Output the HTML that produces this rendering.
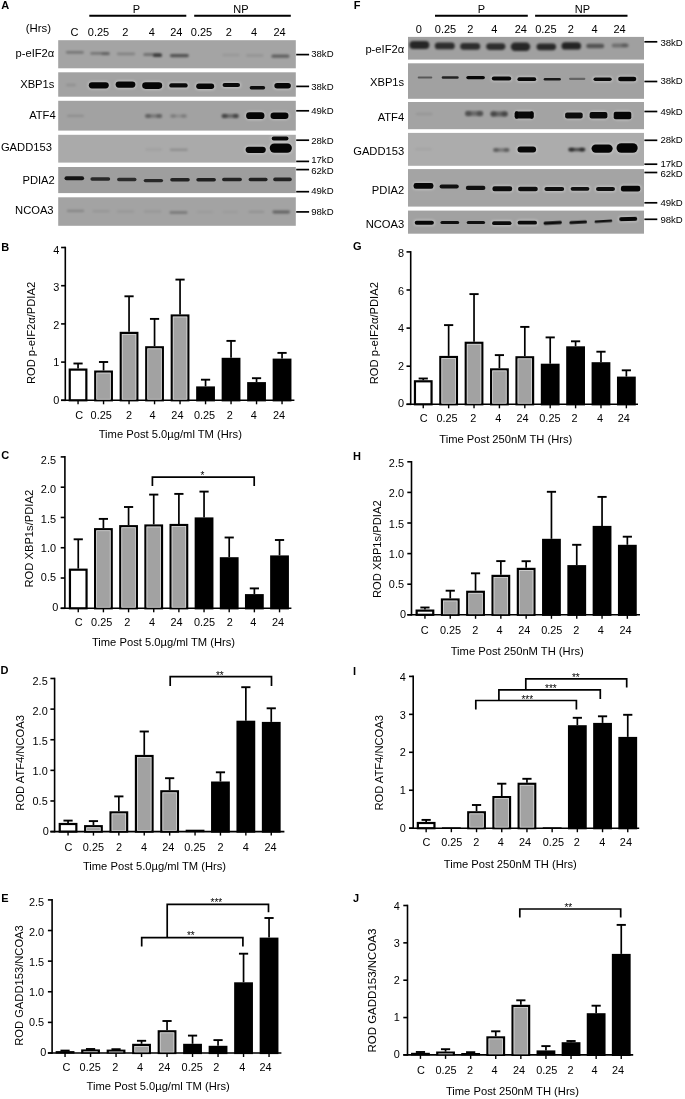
<!DOCTYPE html>
<html><head><meta charset="utf-8"><title>Figure</title>
<style>
html,body{margin:0;padding:0;background:#fff;}
body{width:685px;height:1099px;overflow:hidden;font-family:"Liberation Sans", sans-serif;}
svg{display:block;will-change:transform;filter:blur(0.3px);}
</style></head><body>
<svg width="685" height="1099" viewBox="0 0 685 1099" font-family='"Liberation Sans", sans-serif' fill="#000">
<defs>
<filter id="b4" x="-30%" y="-150%" width="160%" height="400%"><feGaussianBlur stdDeviation="0.4"/></filter>
<filter id="b5" x="-30%" y="-150%" width="160%" height="400%"><feGaussianBlur stdDeviation="0.5"/></filter>
<filter id="b6" x="-30%" y="-150%" width="160%" height="400%"><feGaussianBlur stdDeviation="0.6"/></filter>
<filter id="b7" x="-30%" y="-150%" width="160%" height="400%"><feGaussianBlur stdDeviation="0.7"/></filter>
<filter id="b8" x="-30%" y="-150%" width="160%" height="400%"><feGaussianBlur stdDeviation="0.8"/></filter>
<filter id="b9" x="-30%" y="-150%" width="160%" height="400%"><feGaussianBlur stdDeviation="0.9"/></filter>
<filter id="b10" x="-30%" y="-150%" width="160%" height="400%"><feGaussianBlur stdDeviation="1.0"/></filter>
<filter id="b12" x="-30%" y="-150%" width="160%" height="400%"><feGaussianBlur stdDeviation="1.2"/></filter>
<filter id="b15" x="-30%" y="-150%" width="160%" height="400%"><feGaussianBlur stdDeviation="1.5"/></filter>
<clipPath id="clip58_40"><rect x="58.2" y="40.2" width="237.6" height="28.1"/></clipPath>
<clipPath id="clip58_72"><rect x="58.2" y="72.3" width="237.6" height="24.4"/></clipPath>
<clipPath id="clip58_100"><rect x="58.2" y="100.8" width="237.6" height="29.8"/></clipPath>
<clipPath id="clip58_134"><rect x="58.2" y="134.8" width="237.6" height="27.8"/></clipPath>
<clipPath id="clip58_167"><rect x="58.2" y="167" width="237.6" height="26.1"/></clipPath>
<clipPath id="clip58_197"><rect x="58.2" y="197.3" width="237.6" height="28.5"/></clipPath>
<clipPath id="clip408_36"><rect x="408" y="36.9" width="236" height="22.7"/></clipPath>
<clipPath id="clip408_63"><rect x="408" y="63.3" width="236" height="35.5"/></clipPath>
<clipPath id="clip408_102"><rect x="408" y="102" width="236" height="27.2"/></clipPath>
<clipPath id="clip408_132"><rect x="408" y="132.9" width="236" height="32.9"/></clipPath>
<clipPath id="clip408_169"><rect x="408" y="169.1" width="236" height="37.5"/></clipPath>
<clipPath id="clip408_210"><rect x="408" y="210.6" width="236" height="23.1"/></clipPath>
</defs>
<rect width="685" height="1099" fill="#fff"/>
<rect x="58.2" y="40.2" width="237.6" height="28.1" fill="#a4a4a4"/>
<g clip-path="url(#clip58_40)">
<rect x="65.9" y="50.9" width="18" height="2.8" rx="1.4" fill="#000" fill-opacity="0.28" filter="url(#b10)"/>
<rect x="90.25" y="52" width="19.5" height="2.8" rx="1.4" fill="#000" fill-opacity="0.28" filter="url(#b10)"/>
<rect x="101.5" y="52.6" width="8" height="2.6" rx="1.3" fill="#000" fill-opacity="0.2" filter="url(#b9)"/>
<rect x="116.75" y="52.4" width="18.5" height="2.8" rx="1.4" fill="#000" fill-opacity="0.2" filter="url(#b10)"/>
<rect x="143.25" y="53.1" width="18.5" height="3" rx="1.5" fill="#000" fill-opacity="0.3" filter="url(#b10)"/>
<rect x="153" y="53.8" width="9" height="3.2" rx="1.6" fill="#000" fill-opacity="0.55" filter="url(#b9)"/>
<rect x="169.9" y="53.9" width="19" height="3.4" rx="1.7" fill="#000" fill-opacity="0.5" filter="url(#b10)"/>
<rect x="222.25" y="53.7" width="17.5" height="2.6" rx="1.3" fill="#000" fill-opacity="0.08" filter="url(#b10)"/>
<rect x="246.05" y="54.2" width="17.5" height="2.6" rx="1.3" fill="#000" fill-opacity="0.1" filter="url(#b10)"/>
<rect x="271.4" y="54.6" width="18" height="3.2" rx="1.6" fill="#000" fill-opacity="0.42" filter="url(#b10)"/>
</g>
<rect x="58.2" y="72.3" width="237.6" height="24.4" fill="#a2a2a2"/>
<g clip-path="url(#clip58_72)">
<rect x="66" y="83.75" width="10" height="2.5" rx="1.25" fill="#000" fill-opacity="0.1" filter="url(#b10)"/>
<rect x="87.6" y="81" width="22.4" height="8.6" rx="4.3" fill="#fff" fill-opacity="0.28" filter="url(#b8)"/>
<rect x="88.8" y="82.2" width="20" height="6.2" rx="3.1" fill="#000" fill-opacity="0.97" filter="url(#b6)"/>
<rect x="114.4" y="80.3" width="22.2" height="8.6" rx="4.3" fill="#fff" fill-opacity="0.28" filter="url(#b8)"/>
<rect x="115.6" y="81.5" width="19.8" height="6.2" rx="3.1" fill="#000" fill-opacity="0.97" filter="url(#b6)"/>
<rect x="141" y="81.1" width="22.4" height="9" rx="4.5" fill="#fff" fill-opacity="0.28" filter="url(#b8)"/>
<rect x="142.2" y="82.3" width="20" height="6.6" rx="3.3" fill="#000" fill-opacity="0.97" filter="url(#b6)"/>
<rect x="168.05" y="82" width="20.9" height="6.8" rx="3.4" fill="#fff" fill-opacity="0.28" filter="url(#b8)"/>
<rect x="169.25" y="83.2" width="18.5" height="4.4" rx="2.2" fill="#000" fill-opacity="0.95" filter="url(#b6)"/>
<rect x="195" y="82.4" width="20.4" height="7.8" rx="3.9" fill="#fff" fill-opacity="0.28" filter="url(#b8)"/>
<rect x="196.2" y="83.6" width="18" height="5.4" rx="2.7" fill="#000" fill-opacity="0.97" filter="url(#b6)"/>
<rect x="221.35" y="81.7" width="19.9" height="6.6" rx="3.3" fill="#fff" fill-opacity="0.28" filter="url(#b8)"/>
<rect x="222.55" y="82.9" width="17.5" height="4.2" rx="2.1" fill="#000" fill-opacity="0.95" filter="url(#b6)"/>
<rect x="249.65" y="86" width="15.5" height="3.4" rx="1.7" fill="#000" fill-opacity="0.92" filter="url(#b6)"/>
<rect x="273.15" y="81.75" width="18.9" height="7.9" rx="3.95" fill="#fff" fill-opacity="0.28" filter="url(#b8)"/>
<rect x="274.35" y="82.95" width="16.5" height="5.5" rx="2.75" fill="#000" fill-opacity="0.97" filter="url(#b6)"/>
</g>
<rect x="58.2" y="100.8" width="237.6" height="29.8" fill="#a2a2a2"/>
<g clip-path="url(#clip58_100)">
<rect x="67" y="114.7" width="17" height="2.4" rx="1.2" fill="#000" fill-opacity="0.12" filter="url(#b9)"/>
<rect x="144.85" y="114.2" width="17.5" height="3.6" rx="1.8" fill="#000" fill-opacity="0.25" filter="url(#b9)"/>
<rect x="145.35" y="114.11" width="5.6" height="3.78" rx="1.89" fill="#000" fill-opacity="0.22" filter="url(#b9)"/>
<rect x="156.25" y="114.11" width="5.6" height="3.78" rx="1.89" fill="#000" fill-opacity="0.22" filter="url(#b9)"/>
<rect x="170" y="114.4" width="17" height="3.2" rx="1.6" fill="#000" fill-opacity="0.12" filter="url(#b9)"/>
<rect x="170.5" y="114.32" width="5.44" height="3.36" rx="1.68" fill="#000" fill-opacity="0.14" filter="url(#b9)"/>
<rect x="181.06" y="114.32" width="5.44" height="3.36" rx="1.68" fill="#000" fill-opacity="0.14" filter="url(#b9)"/>
<rect x="221.45" y="114.1" width="17.5" height="3.8" rx="1.9" fill="#000" fill-opacity="0.35" filter="url(#b9)"/>
<rect x="221.95" y="114" width="5.6" height="3.99" rx="1.99" fill="#000" fill-opacity="0.35" filter="url(#b9)"/>
<rect x="232.85" y="114" width="5.6" height="3.99" rx="1.99" fill="#000" fill-opacity="0.35" filter="url(#b9)"/>
<rect x="244.9" y="111.1" width="20.8" height="9.2" rx="4.6" fill="#fff" fill-opacity="0.28" filter="url(#b8)"/>
<rect x="246.1" y="112.3" width="18.4" height="6.8" rx="3.4" fill="#000" fill-opacity="0.97" filter="url(#b6)"/>
<rect x="269.3" y="111.3" width="20.4" height="8.8" rx="4.4" fill="#fff" fill-opacity="0.28" filter="url(#b8)"/>
<rect x="270.5" y="112.5" width="18" height="6.4" rx="3.2" fill="#000" fill-opacity="0.97" filter="url(#b6)"/>
</g>
<rect x="58.2" y="134.8" width="237.6" height="27.8" fill="#aaaaaa"/>
<g clip-path="url(#clip58_134)">
<rect x="145.2" y="148.5" width="17" height="2" rx="1" fill="#000" fill-opacity="0.07" filter="url(#b9)"/>
<rect x="169.8" y="148.6" width="18" height="2.4" rx="1.2" fill="#000" fill-opacity="0.16" filter="url(#b9)"/>
<rect x="244.4" y="145.5" width="22.6" height="8.6" rx="4.3" fill="#fff" fill-opacity="0.28" filter="url(#b8)"/>
<rect x="245.6" y="146.7" width="20.2" height="6.2" rx="3.1" fill="#000" fill-opacity="0.97" filter="url(#b6)"/>
<rect x="268.5" y="142.2" width="24.6" height="11.8" rx="5.9" fill="#fff" fill-opacity="0.28" filter="url(#b8)"/>
<rect x="269.7" y="143.4" width="22.2" height="9.4" rx="4.7" fill="#000" fill-opacity="0.98" filter="url(#b6)"/>
<rect x="270.5" y="135.3" width="19.2" height="6.4" rx="3.2" fill="#fff" fill-opacity="0.28" filter="url(#b8)"/>
<rect x="271.7" y="136.5" width="16.8" height="4" rx="2" fill="#000" fill-opacity="0.95" filter="url(#b6)"/>
</g>
<rect x="58.2" y="167" width="237.6" height="26.1" fill="#9e9e9e"/>
<g clip-path="url(#clip58_167)">
<rect x="64.5" y="176.3" width="19.6" height="4" rx="2" fill="#000" fill-opacity="0.88" filter="url(#b7)"/>
<rect x="90.4" y="177.3" width="19.8" height="3.4" rx="1.7" fill="#000" fill-opacity="0.75" filter="url(#b7)"/>
<rect x="117.1" y="177.8" width="19.4" height="3.4" rx="1.7" fill="#000" fill-opacity="0.72" filter="url(#b7)"/>
<rect x="143.7" y="178.9" width="19.4" height="3.4" rx="1.7" fill="#000" fill-opacity="0.75" filter="url(#b7)"/>
<rect x="170.2" y="177.9" width="19.6" height="3.6" rx="1.8" fill="#000" fill-opacity="0.78" filter="url(#b7)"/>
<rect x="196.3" y="177.9" width="19.6" height="3.6" rx="1.8" fill="#000" fill-opacity="0.8" filter="url(#b7)"/>
<rect x="222.1" y="177.8" width="19.8" height="3.4" rx="1.7" fill="#000" fill-opacity="0.78" filter="url(#b7)"/>
<rect x="248.6" y="177.7" width="19" height="3.6" rx="1.8" fill="#000" fill-opacity="0.8" filter="url(#b7)"/>
<rect x="273.2" y="177.6" width="18.6" height="3.6" rx="1.8" fill="#000" fill-opacity="0.78" filter="url(#b7)"/>
</g>
<rect x="58.2" y="197.3" width="237.6" height="28.5" fill="#a3a3a3"/>
<g clip-path="url(#clip58_197)">
<rect x="66.75" y="209.7" width="17.5" height="2.2" rx="1.1" fill="#000" fill-opacity="0.18" filter="url(#b9)"/>
<rect x="92.35" y="210.2" width="17.5" height="2" rx="1" fill="#000" fill-opacity="0.09" filter="url(#b9)"/>
<rect x="116.5" y="210.4" width="18" height="2" rx="1" fill="#000" fill-opacity="0.08" filter="url(#b9)"/>
<rect x="143.85" y="210.6" width="17.5" height="2" rx="1" fill="#000" fill-opacity="0.09" filter="url(#b9)"/>
<rect x="169.5" y="211.2" width="18" height="2.6" rx="1.3" fill="#000" fill-opacity="0.28" filter="url(#b9)"/>
<rect x="196.5" y="210.9" width="17" height="2" rx="1" fill="#000" fill-opacity="0.05" filter="url(#b9)"/>
<rect x="222.3" y="210.9" width="16" height="2" rx="1" fill="#000" fill-opacity="0.05" filter="url(#b9)"/>
<rect x="248.4" y="210.8" width="16" height="2.2" rx="1.1" fill="#000" fill-opacity="0.1" filter="url(#b9)"/>
<rect x="272.45" y="210.6" width="17.5" height="2.8" rx="1.4" fill="#000" fill-opacity="0.4" filter="url(#b8)"/>
</g>
<line x1="296.2" y1="54.6" x2="309.1" y2="54.6" stroke="#000" stroke-width="1.7"/>
<text x="311.2" y="56.94" font-size="9.6" text-anchor="start" font-weight="normal" >38kD</text>
<line x1="296.2" y1="86.4" x2="309.1" y2="86.4" stroke="#000" stroke-width="1.7"/>
<text x="311.2" y="89.64" font-size="9.6" text-anchor="start" font-weight="normal" >38kD</text>
<line x1="296.2" y1="110.8" x2="309.1" y2="110.8" stroke="#000" stroke-width="1.7"/>
<text x="311.2" y="114.34" font-size="9.6" text-anchor="start" font-weight="normal" >49kD</text>
<line x1="296.2" y1="140.2" x2="309.1" y2="140.2" stroke="#000" stroke-width="1.7"/>
<text x="311.2" y="143.64" font-size="9.6" text-anchor="start" font-weight="normal" >28kD</text>
<line x1="296.2" y1="161.4" x2="309.1" y2="161.4" stroke="#000" stroke-width="1.7"/>
<text x="311.2" y="163.24" font-size="9.6" text-anchor="start" font-weight="normal" >17kD</text>
<line x1="296.2" y1="169.6" x2="309.1" y2="169.6" stroke="#000" stroke-width="1.7"/>
<text x="311.2" y="173.84" font-size="9.6" text-anchor="start" font-weight="normal" >62kD</text>
<line x1="296.2" y1="191.7" x2="309.1" y2="191.7" stroke="#000" stroke-width="1.7"/>
<text x="311.2" y="194.04" font-size="9.6" text-anchor="start" font-weight="normal" >49kD</text>
<line x1="296.2" y1="211.9" x2="309.1" y2="211.9" stroke="#000" stroke-width="1.7"/>
<text x="311.2" y="215.04" font-size="9.6" text-anchor="start" font-weight="normal" >98kD</text>
<text x="54.3" y="57.31" font-size="11.2" text-anchor="end" font-weight="normal" >p-eIF2α</text>
<text x="54.4" y="88.41" font-size="11.2" text-anchor="end" font-weight="normal" >XBP1s</text>
<text x="55.7" y="119.31" font-size="11.2" text-anchor="end" font-weight="normal" >ATF4</text>
<text x="51.9" y="151.21" font-size="11.2" text-anchor="end" font-weight="normal" >GADD153</text>
<text x="54.8" y="183.51" font-size="11.2" text-anchor="end" font-weight="normal" >PDIA2</text>
<text x="53.6" y="213.51" font-size="11.2" text-anchor="end" font-weight="normal" >NCOA3</text>
<text x="74.4" y="35.94" font-size="11" text-anchor="middle" font-weight="normal" >C</text>
<text x="98.5" y="35.94" font-size="11" text-anchor="middle" font-weight="normal" >0.25</text>
<text x="125.3" y="35.94" font-size="11" text-anchor="middle" font-weight="normal" >2</text>
<text x="151.9" y="35.94" font-size="11" text-anchor="middle" font-weight="normal" >4</text>
<text x="176.3" y="35.94" font-size="11" text-anchor="middle" font-weight="normal" >24</text>
<text x="201.5" y="35.94" font-size="11" text-anchor="middle" font-weight="normal" >0.25</text>
<text x="228.8" y="35.94" font-size="11" text-anchor="middle" font-weight="normal" >2</text>
<text x="254" y="35.94" font-size="11" text-anchor="middle" font-weight="normal" >4</text>
<text x="279.5" y="35.94" font-size="11" text-anchor="middle" font-weight="normal" >24</text>
<line x1="89.3" y1="15.8" x2="186.3" y2="15.8" stroke="#000" stroke-width="1.9"/>
<text x="136.5" y="12.84" font-size="11" text-anchor="middle" font-weight="normal" >P</text>
<line x1="194.2" y1="15.8" x2="290.8" y2="15.8" stroke="#000" stroke-width="1.9"/>
<text x="240.9" y="12.84" font-size="11" text-anchor="middle" font-weight="normal" >NP</text>
<rect x="408" y="36.9" width="236" height="22.7" fill="#a0a0a0"/>
<g clip-path="url(#clip408_36)">
<rect x="409.4" y="41.1" width="20" height="7.8" rx="3.9" fill="#000" fill-opacity="0.76" filter="url(#b8)"/>
<rect x="434.8" y="42.5" width="20" height="6.8" rx="3.4" fill="#000" fill-opacity="0.72" filter="url(#b8)"/>
<rect x="460.2" y="43.1" width="20" height="6.6" rx="3.3" fill="#000" fill-opacity="0.72" filter="url(#b8)"/>
<rect x="486.2" y="43.3" width="19.2" height="6.6" rx="3.3" fill="#000" fill-opacity="0.72" filter="url(#b8)"/>
<rect x="510.75" y="42.6" width="19.5" height="8.4" rx="4.2" fill="#000" fill-opacity="0.76" filter="url(#b8)"/>
<rect x="536.5" y="43.4" width="19.6" height="6.8" rx="3.4" fill="#000" fill-opacity="0.74" filter="url(#b8)"/>
<rect x="561.5" y="42.3" width="19.6" height="7.2" rx="3.6" fill="#000" fill-opacity="0.78" filter="url(#b8)"/>
<rect x="586.2" y="43.7" width="18" height="4.6" rx="2.3" fill="#000" fill-opacity="0.48" filter="url(#b9)"/>
<rect x="611.7" y="43.6" width="17" height="3.8" rx="1.9" fill="#000" fill-opacity="0.3" filter="url(#b9)"/>
<rect x="621.5" y="43.6" width="6" height="3.4" rx="1.7" fill="#000" fill-opacity="0.18" filter="url(#b8)"/>
</g>
<rect x="408" y="63.3" width="236" height="35.5" fill="#a1a1a1"/>
<g clip-path="url(#clip408_63)">
<rect x="417.7" y="76.4" width="14.6" height="2" rx="1" fill="#000" fill-opacity="0.45" filter="url(#b7)"/>
<rect x="441.7" y="76.2" width="17" height="2.6" rx="1.3" fill="#000" fill-opacity="0.78" filter="url(#b6)"/>
<rect x="466.3" y="75.9" width="18.6" height="3.4" rx="1.7" fill="#000" fill-opacity="0.96" filter="url(#b6)"/>
<rect x="490.6" y="75.2" width="21.8" height="6.6" rx="3.3" fill="#fff" fill-opacity="0.28" filter="url(#b8)"/>
<rect x="491.8" y="76.4" width="19.4" height="4.2" rx="2.1" fill="#000" fill-opacity="0.97" filter="url(#b6)"/>
<rect x="516.2" y="76.1" width="21.2" height="6.2" rx="3.1" fill="#fff" fill-opacity="0.28" filter="url(#b8)"/>
<rect x="517.4" y="77.3" width="18.8" height="3.8" rx="1.9" fill="#000" fill-opacity="0.96" filter="url(#b6)"/>
<rect x="543.7" y="77.9" width="17.2" height="2.6" rx="1.3" fill="#000" fill-opacity="0.85" filter="url(#b6)"/>
<rect x="569" y="77.7" width="16.4" height="2.2" rx="1.1" fill="#000" fill-opacity="0.38" filter="url(#b7)"/>
<rect x="592.3" y="76.2" width="20.6" height="6" rx="3" fill="#fff" fill-opacity="0.28" filter="url(#b8)"/>
<rect x="593.5" y="77.4" width="18.2" height="3.6" rx="1.8" fill="#000" fill-opacity="0.95" filter="url(#b6)"/>
<rect x="616.9" y="75.5" width="20.6" height="7" rx="3.5" fill="#fff" fill-opacity="0.28" filter="url(#b8)"/>
<rect x="618.1" y="76.7" width="18.2" height="4.6" rx="2.3" fill="#000" fill-opacity="0.97" filter="url(#b6)"/>
</g>
<rect x="408" y="102" width="236" height="27.2" fill="#a3a3a3"/>
<g clip-path="url(#clip408_102)">
<rect x="415.9" y="112.8" width="16.6" height="2.4" rx="1.2" fill="#000" fill-opacity="0.08" filter="url(#b9)"/>
<rect x="465" y="111.1" width="18.2" height="5" rx="2" fill="#000" fill-opacity="0.34" filter="url(#b9)"/>
<rect x="465.5" y="110.97" width="5.82" height="5.25" rx="2" fill="#000" fill-opacity="0.26" filter="url(#b9)"/>
<rect x="476.88" y="110.97" width="5.82" height="5.25" rx="2" fill="#000" fill-opacity="0.26" filter="url(#b9)"/>
<rect x="490.4" y="111.4" width="17.4" height="5" rx="2" fill="#000" fill-opacity="0.4" filter="url(#b9)"/>
<rect x="490.9" y="111.28" width="5.57" height="5.25" rx="2" fill="#000" fill-opacity="0.28" filter="url(#b9)"/>
<rect x="501.73" y="111.28" width="5.57" height="5.25" rx="2" fill="#000" fill-opacity="0.28" filter="url(#b9)"/>
<rect x="513.5" y="110.2" width="21.4" height="9.4" rx="4.7" fill="#fff" fill-opacity="0.28" filter="url(#b8)"/>
<rect x="514.7" y="111.4" width="19" height="7" rx="2" fill="#000" fill-opacity="0.95" filter="url(#b7)"/>
<rect x="514.75" y="110.9" width="3.5" height="8" rx="2" fill="#000" fill-opacity="0.7" filter="url(#b7)"/>
<rect x="530.05" y="110.9" width="3.5" height="8" rx="2" fill="#000" fill-opacity="0.7" filter="url(#b7)"/>
<rect x="563.9" y="111.2" width="20" height="8.4" rx="4.2" fill="#fff" fill-opacity="0.28" filter="url(#b8)"/>
<rect x="565.1" y="112.4" width="17.6" height="6" rx="2" fill="#000" fill-opacity="0.93" filter="url(#b7)"/>
<rect x="588.4" y="110.7" width="20.2" height="9" rx="4.5" fill="#fff" fill-opacity="0.28" filter="url(#b8)"/>
<rect x="589.6" y="111.9" width="17.8" height="6.6" rx="2" fill="#000" fill-opacity="0.95" filter="url(#b7)"/>
<rect x="612.5" y="110.5" width="20" height="10" rx="5" fill="#fff" fill-opacity="0.28" filter="url(#b8)"/>
<rect x="613.7" y="111.7" width="17.6" height="7.6" rx="2" fill="#000" fill-opacity="0.97" filter="url(#b7)"/>
</g>
<rect x="408" y="132.9" width="236" height="32.9" fill="#acacac"/>
<g clip-path="url(#clip408_132)">
<rect x="415" y="148.2" width="17" height="2" rx="1" fill="#000" fill-opacity="0.06" filter="url(#b9)"/>
<rect x="493" y="148.3" width="16.6" height="3.4" rx="1.7" fill="#000" fill-opacity="0.3" filter="url(#b9)"/>
<rect x="493.5" y="148.22" width="5.31" height="3.57" rx="1.78" fill="#000" fill-opacity="0.26" filter="url(#b9)"/>
<rect x="503.79" y="148.22" width="5.31" height="3.57" rx="1.78" fill="#000" fill-opacity="0.26" filter="url(#b9)"/>
<rect x="516.3" y="145.4" width="21" height="8.2" rx="4.1" fill="#fff" fill-opacity="0.28" filter="url(#b8)"/>
<rect x="517.5" y="146.6" width="18.6" height="5.8" rx="2.9" fill="#000" fill-opacity="0.96" filter="url(#b6)"/>
<rect x="568.3" y="147.9" width="17" height="3.4" rx="1.7" fill="#000" fill-opacity="0.55" filter="url(#b9)"/>
<rect x="568.8" y="147.81" width="5.44" height="3.57" rx="1.78" fill="#000" fill-opacity="0.45" filter="url(#b9)"/>
<rect x="579.36" y="147.81" width="5.44" height="3.57" rx="1.78" fill="#000" fill-opacity="0.45" filter="url(#b9)"/>
<rect x="590.3" y="143.2" width="23.6" height="10.8" rx="5.4" fill="#fff" fill-opacity="0.28" filter="url(#b8)"/>
<rect x="591.5" y="144.4" width="21.2" height="8.4" rx="4.2" fill="#000" fill-opacity="0.98" filter="url(#b6)"/>
<rect x="615.3" y="142" width="23.6" height="12" rx="6" fill="#fff" fill-opacity="0.28" filter="url(#b8)"/>
<rect x="616.5" y="143.2" width="21.2" height="9.6" rx="4.8" fill="#000" fill-opacity="0.98" filter="url(#b6)"/>
</g>
<rect x="408" y="169.1" width="236" height="37.5" fill="#a4a4a4"/>
<g clip-path="url(#clip408_169)">
<rect x="412.4" y="181.9" width="22.2" height="8" rx="4" fill="#fff" fill-opacity="0.28" filter="url(#b8)"/>
<rect x="413.6" y="183.1" width="19.8" height="5.6" rx="2.2" fill="#000" fill-opacity="0.96" filter="url(#b6)"/>
<rect x="439.6" y="184.4" width="19.2" height="4.2" rx="2.1" fill="#000" fill-opacity="0.9" filter="url(#b6)"/>
<rect x="465.8" y="185.8" width="19.6" height="4.2" rx="2.1" fill="#000" fill-opacity="0.9" filter="url(#b6)"/>
<rect x="491.2" y="185.1" width="22.2" height="7.4" rx="3.7" fill="#fff" fill-opacity="0.28" filter="url(#b8)"/>
<rect x="492.4" y="186.3" width="19.8" height="5" rx="2.2" fill="#000" fill-opacity="0.94" filter="url(#b6)"/>
<rect x="516.8" y="185.5" width="22.2" height="7" rx="3.5" fill="#fff" fill-opacity="0.28" filter="url(#b8)"/>
<rect x="518" y="186.7" width="19.8" height="4.6" rx="2.2" fill="#000" fill-opacity="0.93" filter="url(#b6)"/>
<rect x="543.2" y="185.7" width="22.2" height="6.6" rx="3.3" fill="#fff" fill-opacity="0.28" filter="url(#b8)"/>
<rect x="544.4" y="186.9" width="19.8" height="4.2" rx="2.1" fill="#000" fill-opacity="0.92" filter="url(#b6)"/>
<rect x="569.4" y="185.7" width="21.2" height="6.2" rx="3.1" fill="#fff" fill-opacity="0.28" filter="url(#b8)"/>
<rect x="570.6" y="186.9" width="18.8" height="3.8" rx="1.9" fill="#000" fill-opacity="0.92" filter="url(#b6)"/>
<rect x="594.8" y="185.7" width="21.4" height="6.6" rx="3.3" fill="#fff" fill-opacity="0.28" filter="url(#b8)"/>
<rect x="596" y="186.9" width="19" height="4.2" rx="2.1" fill="#000" fill-opacity="0.92" filter="url(#b6)"/>
<rect x="619.7" y="184.6" width="21.8" height="8" rx="4" fill="#fff" fill-opacity="0.28" filter="url(#b8)"/>
<rect x="620.9" y="185.8" width="19.4" height="5.6" rx="2.2" fill="#000" fill-opacity="0.97" filter="url(#b6)"/>
</g>
<rect x="408" y="210.6" width="236" height="23.1" fill="#a1a1a1"/>
<g clip-path="url(#clip408_210)">
<rect x="413.5" y="219.5" width="21.6" height="6.4" rx="3.2" fill="#fff" fill-opacity="0.28" filter="url(#b8)"/>
<rect x="414.7" y="220.7" width="19.2" height="4" rx="2" fill="#000" fill-opacity="0.96" filter="url(#b6)"/>
<rect x="440.4" y="220.9" width="18.8" height="3.2" rx="1.6" fill="#000" fill-opacity="0.9" filter="url(#b6)"/>
<rect x="466.7" y="220.9" width="18.4" height="3.2" rx="1.6" fill="#000" fill-opacity="0.9" filter="url(#b6)"/>
<rect x="490.9" y="220.1" width="21.8" height="6.2" rx="3.1" fill="#fff" fill-opacity="0.28" filter="url(#b8)"/>
<rect x="492.1" y="221.3" width="19.4" height="3.8" rx="1.9" fill="#000" fill-opacity="0.94" filter="url(#b6)"/>
<rect x="516.4" y="219.6" width="21.8" height="6.2" rx="3.1" fill="#fff" fill-opacity="0.28" filter="url(#b8)"/>
<rect x="517.6" y="220.8" width="19.4" height="3.8" rx="1.9" fill="#000" fill-opacity="0.94" filter="url(#b6)"/>
<rect x="543.5" y="221.2" width="18.4" height="3.2" rx="1.6" fill="#000" fill-opacity="0.92" filter="url(#b6)" transform="rotate(-3 552.7 222.8)"/>
<rect x="569.4" y="220.7" width="17.6" height="3" rx="1.5" fill="#000" fill-opacity="0.9" filter="url(#b6)" transform="rotate(-3 578.2 222.2)"/>
<rect x="594.6" y="220" width="17.6" height="2.6" rx="1.3" fill="#000" fill-opacity="0.88" filter="url(#b6)" transform="rotate(-3.5 603.4 221.3)"/>
<rect x="617.9" y="215.7" width="20.6" height="6.6" rx="3.3" fill="#fff" fill-opacity="0.28" filter="url(#b8)" transform="rotate(-1.5 628.2 219)"/>
<rect x="619.1" y="216.9" width="18.2" height="4.2" rx="2" fill="#000" fill-opacity="0.97" filter="url(#b6)" transform="rotate(-1.5 628.2 219)"/>
</g>
<line x1="644.4" y1="41.8" x2="657.3" y2="41.8" stroke="#000" stroke-width="1.7"/>
<text x="660.4" y="45.84" font-size="9.6" text-anchor="start" font-weight="normal" >38kD</text>
<line x1="644.4" y1="81.5" x2="657.3" y2="81.5" stroke="#000" stroke-width="1.7"/>
<text x="660.4" y="84.34" font-size="9.6" text-anchor="start" font-weight="normal" >38kD</text>
<line x1="644.4" y1="111.5" x2="657.3" y2="111.5" stroke="#000" stroke-width="1.7"/>
<text x="660.4" y="114.64" font-size="9.6" text-anchor="start" font-weight="normal" >49kD</text>
<line x1="644.4" y1="140.3" x2="657.3" y2="140.3" stroke="#000" stroke-width="1.7"/>
<text x="660.4" y="143.14" font-size="9.6" text-anchor="start" font-weight="normal" >28kD</text>
<line x1="644.4" y1="164.2" x2="657.3" y2="164.2" stroke="#000" stroke-width="1.7"/>
<text x="660.4" y="166.74" font-size="9.6" text-anchor="start" font-weight="normal" >17kD</text>
<line x1="644.4" y1="172.5" x2="657.3" y2="172.5" stroke="#000" stroke-width="1.7"/>
<text x="660.4" y="177.44" font-size="9.6" text-anchor="start" font-weight="normal" >62kD</text>
<line x1="644.4" y1="202.8" x2="657.3" y2="202.8" stroke="#000" stroke-width="1.7"/>
<text x="660.4" y="205.84" font-size="9.6" text-anchor="start" font-weight="normal" >49kD</text>
<line x1="644.4" y1="219.3" x2="657.3" y2="219.3" stroke="#000" stroke-width="1.7"/>
<text x="660.4" y="223.04" font-size="9.6" text-anchor="start" font-weight="normal" >98kD</text>
<text x="404.2" y="52.51" font-size="11.2" text-anchor="end" font-weight="normal" >p-eIF2α</text>
<text x="404.2" y="86.31" font-size="11.2" text-anchor="end" font-weight="normal" >XBP1s</text>
<text x="404.2" y="121.01" font-size="11.2" text-anchor="end" font-weight="normal" >ATF4</text>
<text x="404.2" y="155.11" font-size="11.2" text-anchor="end" font-weight="normal" >GADD153</text>
<text x="404.2" y="193.51" font-size="11.2" text-anchor="end" font-weight="normal" >PDIA2</text>
<text x="404.2" y="227.81" font-size="11.2" text-anchor="end" font-weight="normal" >NCOA3</text>
<text x="418.9" y="32.74" font-size="11" text-anchor="middle" font-weight="normal" >0</text>
<text x="445.5" y="32.74" font-size="11" text-anchor="middle" font-weight="normal" >0.25</text>
<text x="470.3" y="32.74" font-size="11" text-anchor="middle" font-weight="normal" >2</text>
<text x="494.4" y="32.74" font-size="11" text-anchor="middle" font-weight="normal" >4</text>
<text x="520.8" y="32.74" font-size="11" text-anchor="middle" font-weight="normal" >24</text>
<text x="545.9" y="32.74" font-size="11" text-anchor="middle" font-weight="normal" >0.25</text>
<text x="570.8" y="32.74" font-size="11" text-anchor="middle" font-weight="normal" >2</text>
<text x="594.5" y="32.74" font-size="11" text-anchor="middle" font-weight="normal" >4</text>
<text x="619.6" y="32.74" font-size="11" text-anchor="middle" font-weight="normal" >24</text>
<line x1="435" y1="15.8" x2="527.8" y2="15.8" stroke="#000" stroke-width="1.9"/>
<text x="481.4" y="12.64" font-size="11" text-anchor="middle" font-weight="normal" >P</text>
<line x1="535.1" y1="15.8" x2="627.5" y2="15.8" stroke="#000" stroke-width="1.9"/>
<text x="582.4" y="12.64" font-size="11" text-anchor="middle" font-weight="normal" >NP</text>
<text x="1.2" y="8.94" font-size="11" text-anchor="start" font-weight="bold" >A</text>
<text x="353.7" y="9.44" font-size="11" text-anchor="start" font-weight="bold" >F</text>
<text x="38.3" y="32.08" font-size="11.4" text-anchor="middle" font-weight="normal" >(Hrs)</text>
<line x1="65.3" y1="246.7" x2="65.3" y2="401.1" stroke="#000" stroke-width="1.6"/>
<line x1="61.1" y1="400.3" x2="294.4" y2="400.3" stroke="#000" stroke-width="1.6"/>
<line x1="61.1" y1="247.5" x2="65.3" y2="247.5" stroke="#000" stroke-width="1.6"/>
<text x="59.4" y="253.5" font-size="10.9" text-anchor="end" font-weight="normal" >4</text>
<line x1="61.1" y1="285.7" x2="65.3" y2="285.7" stroke="#000" stroke-width="1.6"/>
<text x="59.4" y="291.03" font-size="10.9" text-anchor="end" font-weight="normal" >3</text>
<line x1="61.1" y1="323.9" x2="65.3" y2="323.9" stroke="#000" stroke-width="1.6"/>
<text x="59.4" y="328.55" font-size="10.9" text-anchor="end" font-weight="normal" >2</text>
<line x1="61.1" y1="362.1" x2="65.3" y2="362.1" stroke="#000" stroke-width="1.6"/>
<text x="59.4" y="366.08" font-size="10.9" text-anchor="end" font-weight="normal" >1</text>
<line x1="61.1" y1="400.3" x2="65.3" y2="400.3" stroke="#000" stroke-width="1.6"/>
<text x="59.4" y="403.6" font-size="10.9" text-anchor="end" font-weight="normal" >0</text>
<line x1="78.05" y1="363.5" x2="78.05" y2="368.5" stroke="#000" stroke-width="1.7"/>
<line x1="73.45" y1="363.5" x2="82.65" y2="363.5" stroke="#000" stroke-width="1.9"/>
<rect x="69.75" y="369.6" width="16.6" height="30.7" fill="#fff" stroke="#000" stroke-width="2.2"/>
<line x1="78.05" y1="400.3" x2="78.05" y2="404.3" stroke="#000" stroke-width="1.4"/>
<text x="79.3" y="418.7" font-size="10.9" text-anchor="middle" font-weight="normal" >C</text>
<line x1="103.55" y1="362" x2="103.55" y2="370.5" stroke="#000" stroke-width="1.7"/>
<line x1="98.95" y1="362" x2="108.15" y2="362" stroke="#000" stroke-width="1.9"/>
<rect x="95.25" y="371.6" width="16.6" height="28.7" fill="#a2a2a2" stroke="#000" stroke-width="2.2"/>
<rect x="96.75" y="373.1" width="13.6" height="26.2" fill="none" stroke="#d6d6d6" stroke-width="0.8"/>
<line x1="103.55" y1="400.3" x2="103.55" y2="404.3" stroke="#000" stroke-width="1.4"/>
<text x="101.2" y="418.7" font-size="10.9" text-anchor="middle" font-weight="normal" >0.25</text>
<line x1="129.05" y1="296.3" x2="129.05" y2="331.8" stroke="#000" stroke-width="1.7"/>
<line x1="124.45" y1="296.3" x2="133.65" y2="296.3" stroke="#000" stroke-width="1.9"/>
<rect x="120.75" y="332.9" width="16.6" height="67.4" fill="#a2a2a2" stroke="#000" stroke-width="2.2"/>
<rect x="122.25" y="334.4" width="13.6" height="64.9" fill="none" stroke="#d6d6d6" stroke-width="0.8"/>
<line x1="129.05" y1="400.3" x2="129.05" y2="404.3" stroke="#000" stroke-width="1.4"/>
<text x="129" y="418.7" font-size="10.9" text-anchor="middle" font-weight="normal" >2</text>
<line x1="154.55" y1="318.9" x2="154.55" y2="346.2" stroke="#000" stroke-width="1.7"/>
<line x1="149.95" y1="318.9" x2="159.15" y2="318.9" stroke="#000" stroke-width="1.9"/>
<rect x="146.25" y="347.3" width="16.6" height="53" fill="#a2a2a2" stroke="#000" stroke-width="2.2"/>
<rect x="147.75" y="348.8" width="13.6" height="50.5" fill="none" stroke="#d6d6d6" stroke-width="0.8"/>
<line x1="154.55" y1="400.3" x2="154.55" y2="404.3" stroke="#000" stroke-width="1.4"/>
<text x="152.5" y="418.7" font-size="10.9" text-anchor="middle" font-weight="normal" >4</text>
<line x1="180.05" y1="279.6" x2="180.05" y2="314.4" stroke="#000" stroke-width="1.7"/>
<line x1="175.45" y1="279.6" x2="184.65" y2="279.6" stroke="#000" stroke-width="1.9"/>
<rect x="171.75" y="315.5" width="16.6" height="84.8" fill="#a2a2a2" stroke="#000" stroke-width="2.2"/>
<rect x="173.25" y="317" width="13.6" height="82.3" fill="none" stroke="#d6d6d6" stroke-width="0.8"/>
<line x1="180.05" y1="400.3" x2="180.05" y2="404.3" stroke="#000" stroke-width="1.4"/>
<text x="177.4" y="418.7" font-size="10.9" text-anchor="middle" font-weight="normal" >24</text>
<line x1="205.55" y1="379.7" x2="205.55" y2="386.4" stroke="#000" stroke-width="1.7"/>
<line x1="200.95" y1="379.7" x2="210.15" y2="379.7" stroke="#000" stroke-width="1.9"/>
<rect x="197.25" y="387.5" width="16.6" height="12.8" fill="#000" stroke="#000" stroke-width="2.2"/>
<line x1="205.55" y1="400.3" x2="205.55" y2="404.3" stroke="#000" stroke-width="1.4"/>
<text x="204.5" y="418.7" font-size="10.9" text-anchor="middle" font-weight="normal" >0.25</text>
<line x1="231.05" y1="340.9" x2="231.05" y2="357.8" stroke="#000" stroke-width="1.7"/>
<line x1="226.45" y1="340.9" x2="235.65" y2="340.9" stroke="#000" stroke-width="1.9"/>
<rect x="222.75" y="358.9" width="16.6" height="41.4" fill="#000" stroke="#000" stroke-width="2.2"/>
<line x1="231.05" y1="400.3" x2="231.05" y2="404.3" stroke="#000" stroke-width="1.4"/>
<text x="229.9" y="418.7" font-size="10.9" text-anchor="middle" font-weight="normal" >2</text>
<line x1="256.55" y1="378.2" x2="256.55" y2="382.1" stroke="#000" stroke-width="1.7"/>
<line x1="251.95" y1="378.2" x2="261.15" y2="378.2" stroke="#000" stroke-width="1.9"/>
<rect x="248.25" y="383.2" width="16.6" height="17.1" fill="#000" stroke="#000" stroke-width="2.2"/>
<line x1="256.55" y1="400.3" x2="256.55" y2="404.3" stroke="#000" stroke-width="1.4"/>
<text x="253.9" y="418.7" font-size="10.9" text-anchor="middle" font-weight="normal" >4</text>
<line x1="282.05" y1="352.9" x2="282.05" y2="358.6" stroke="#000" stroke-width="1.7"/>
<line x1="277.45" y1="352.9" x2="286.65" y2="352.9" stroke="#000" stroke-width="1.9"/>
<rect x="273.75" y="359.7" width="16.6" height="40.6" fill="#000" stroke="#000" stroke-width="2.2"/>
<line x1="282.05" y1="400.3" x2="282.05" y2="404.3" stroke="#000" stroke-width="1.4"/>
<text x="279" y="418.7" font-size="10.9" text-anchor="middle" font-weight="normal" >24</text>
<text transform="translate(35.4,333) rotate(-90)" font-size="11.2" text-anchor="middle">ROD p-eIF2α/PDIA2</text>
<text x="98.7" y="437.81" font-size="11.2" text-anchor="start" font-weight="normal" >Time Post 5.0µg/ml TM (Hrs)</text>
<text x="1.2" y="250.74" font-size="11" text-anchor="start" font-weight="bold" >B</text>
<line x1="64.9" y1="456.1" x2="64.9" y2="609.1" stroke="#000" stroke-width="1.6"/>
<line x1="60.7" y1="608.3" x2="291.4" y2="608.3" stroke="#000" stroke-width="1.6"/>
<line x1="60.7" y1="456.9" x2="64.9" y2="456.9" stroke="#000" stroke-width="1.6"/>
<text x="56" y="464.2" font-size="10.9" text-anchor="end" font-weight="normal" >2.5</text>
<line x1="60.7" y1="487.18" x2="64.9" y2="487.18" stroke="#000" stroke-width="1.6"/>
<text x="56" y="493.46" font-size="10.9" text-anchor="end" font-weight="normal" >2.0</text>
<line x1="60.7" y1="517.46" x2="64.9" y2="517.46" stroke="#000" stroke-width="1.6"/>
<text x="56" y="522.72" font-size="10.9" text-anchor="end" font-weight="normal" >1.5</text>
<line x1="60.7" y1="547.74" x2="64.9" y2="547.74" stroke="#000" stroke-width="1.6"/>
<text x="56" y="551.98" font-size="10.9" text-anchor="end" font-weight="normal" >1.0</text>
<line x1="60.7" y1="578.02" x2="64.9" y2="578.02" stroke="#000" stroke-width="1.6"/>
<text x="56" y="581.24" font-size="10.9" text-anchor="end" font-weight="normal" >0.5</text>
<line x1="60.7" y1="608.3" x2="64.9" y2="608.3" stroke="#000" stroke-width="1.6"/>
<text x="58.2" y="610.5" font-size="10.9" text-anchor="end" font-weight="normal" >0</text>
<line x1="78.25" y1="539.3" x2="78.25" y2="568.6" stroke="#000" stroke-width="1.7"/>
<line x1="73.65" y1="539.3" x2="82.85" y2="539.3" stroke="#000" stroke-width="1.9"/>
<rect x="69.95" y="569.7" width="16.6" height="38.6" fill="#fff" stroke="#000" stroke-width="2.2"/>
<line x1="78.25" y1="608.3" x2="78.25" y2="612.3" stroke="#000" stroke-width="1.4"/>
<text x="78.7" y="625.9" font-size="10.9" text-anchor="middle" font-weight="normal" >C</text>
<line x1="103.41" y1="518.9" x2="103.41" y2="528.1" stroke="#000" stroke-width="1.7"/>
<line x1="98.81" y1="518.9" x2="108.01" y2="518.9" stroke="#000" stroke-width="1.9"/>
<rect x="95.11" y="529.2" width="16.6" height="79.1" fill="#a2a2a2" stroke="#000" stroke-width="2.2"/>
<rect x="96.61" y="530.7" width="13.6" height="76.6" fill="none" stroke="#d6d6d6" stroke-width="0.8"/>
<line x1="103.41" y1="608.3" x2="103.41" y2="612.3" stroke="#000" stroke-width="1.4"/>
<text x="101.7" y="625.9" font-size="10.9" text-anchor="middle" font-weight="normal" >0.25</text>
<line x1="128.57" y1="507" x2="128.57" y2="525.1" stroke="#000" stroke-width="1.7"/>
<line x1="123.97" y1="507" x2="133.17" y2="507" stroke="#000" stroke-width="1.9"/>
<rect x="120.27" y="526.2" width="16.6" height="82.1" fill="#a2a2a2" stroke="#000" stroke-width="2.2"/>
<rect x="121.77" y="527.7" width="13.6" height="79.6" fill="none" stroke="#d6d6d6" stroke-width="0.8"/>
<line x1="128.57" y1="608.3" x2="128.57" y2="612.3" stroke="#000" stroke-width="1.4"/>
<text x="127.4" y="625.9" font-size="10.9" text-anchor="middle" font-weight="normal" >2</text>
<line x1="153.73" y1="494.6" x2="153.73" y2="524.4" stroke="#000" stroke-width="1.7"/>
<line x1="149.13" y1="494.6" x2="158.33" y2="494.6" stroke="#000" stroke-width="1.9"/>
<rect x="145.43" y="525.5" width="16.6" height="82.8" fill="#a2a2a2" stroke="#000" stroke-width="2.2"/>
<rect x="146.93" y="527" width="13.6" height="80.3" fill="none" stroke="#d6d6d6" stroke-width="0.8"/>
<line x1="153.73" y1="608.3" x2="153.73" y2="612.3" stroke="#000" stroke-width="1.4"/>
<text x="152" y="625.9" font-size="10.9" text-anchor="middle" font-weight="normal" >4</text>
<line x1="178.89" y1="493.9" x2="178.89" y2="523.9" stroke="#000" stroke-width="1.7"/>
<line x1="174.29" y1="493.9" x2="183.49" y2="493.9" stroke="#000" stroke-width="1.9"/>
<rect x="170.59" y="525" width="16.6" height="83.3" fill="#a2a2a2" stroke="#000" stroke-width="2.2"/>
<rect x="172.09" y="526.5" width="13.6" height="80.8" fill="none" stroke="#d6d6d6" stroke-width="0.8"/>
<line x1="178.89" y1="608.3" x2="178.89" y2="612.3" stroke="#000" stroke-width="1.4"/>
<text x="176.5" y="625.9" font-size="10.9" text-anchor="middle" font-weight="normal" >24</text>
<line x1="204.05" y1="491.6" x2="204.05" y2="517.4" stroke="#000" stroke-width="1.7"/>
<line x1="199.45" y1="491.6" x2="208.65" y2="491.6" stroke="#000" stroke-width="1.9"/>
<rect x="195.75" y="518.5" width="16.6" height="89.8" fill="#000" stroke="#000" stroke-width="2.2"/>
<line x1="204.05" y1="608.3" x2="204.05" y2="612.3" stroke="#000" stroke-width="1.4"/>
<text x="204.5" y="625.9" font-size="10.9" text-anchor="middle" font-weight="normal" >0.25</text>
<line x1="229.21" y1="537.5" x2="229.21" y2="557.2" stroke="#000" stroke-width="1.7"/>
<line x1="224.61" y1="537.5" x2="233.81" y2="537.5" stroke="#000" stroke-width="1.9"/>
<rect x="220.91" y="558.3" width="16.6" height="50" fill="#000" stroke="#000" stroke-width="2.2"/>
<line x1="229.21" y1="608.3" x2="229.21" y2="612.3" stroke="#000" stroke-width="1.4"/>
<text x="229.9" y="625.9" font-size="10.9" text-anchor="middle" font-weight="normal" >2</text>
<line x1="254.37" y1="588.4" x2="254.37" y2="594.1" stroke="#000" stroke-width="1.7"/>
<line x1="249.77" y1="588.4" x2="258.97" y2="588.4" stroke="#000" stroke-width="1.9"/>
<rect x="246.07" y="595.2" width="16.6" height="13.1" fill="#000" stroke="#000" stroke-width="2.2"/>
<line x1="254.37" y1="608.3" x2="254.37" y2="612.3" stroke="#000" stroke-width="1.4"/>
<text x="253.2" y="625.9" font-size="10.9" text-anchor="middle" font-weight="normal" >4</text>
<line x1="279.53" y1="540" x2="279.53" y2="555.4" stroke="#000" stroke-width="1.7"/>
<line x1="274.93" y1="540" x2="284.13" y2="540" stroke="#000" stroke-width="1.9"/>
<rect x="271.23" y="556.5" width="16.6" height="51.8" fill="#000" stroke="#000" stroke-width="2.2"/>
<line x1="279.53" y1="608.3" x2="279.53" y2="612.3" stroke="#000" stroke-width="1.4"/>
<text x="278.1" y="625.9" font-size="10.9" text-anchor="middle" font-weight="normal" >24</text>
<polyline points="152.4,485.9 152.4,477.2 254.2,477.2 254.2,485.9" fill="none" stroke="#000" stroke-width="1.7"/>
<text x="202.5" y="478.7" font-size="10" text-anchor="middle" font-weight="normal" >*</text>
<text transform="translate(32.5,538.7) rotate(-90)" font-size="11.2" text-anchor="middle">ROD XBP1s/PDIA2</text>
<text x="91.9" y="645.81" font-size="11.2" text-anchor="start" font-weight="normal" >Time Post 5.0µg/ml TM (Hrs)</text>
<text x="1.2" y="458.94" font-size="11" text-anchor="start" font-weight="bold" >C</text>
<line x1="54.6" y1="677.7" x2="54.6" y2="832.4" stroke="#000" stroke-width="1.6"/>
<line x1="50.4" y1="831.6" x2="284.4" y2="831.6" stroke="#000" stroke-width="1.6"/>
<line x1="50.4" y1="678.5" x2="54.6" y2="678.5" stroke="#000" stroke-width="1.6"/>
<text x="47.7" y="685.3" font-size="10.9" text-anchor="end" font-weight="normal" >2.5</text>
<line x1="50.4" y1="709.12" x2="54.6" y2="709.12" stroke="#000" stroke-width="1.6"/>
<text x="47.7" y="715.22" font-size="10.9" text-anchor="end" font-weight="normal" >2.0</text>
<line x1="50.4" y1="739.74" x2="54.6" y2="739.74" stroke="#000" stroke-width="1.6"/>
<text x="47.7" y="745.14" font-size="10.9" text-anchor="end" font-weight="normal" >1.5</text>
<line x1="50.4" y1="770.36" x2="54.6" y2="770.36" stroke="#000" stroke-width="1.6"/>
<text x="47.7" y="775.06" font-size="10.9" text-anchor="end" font-weight="normal" >1.0</text>
<line x1="50.4" y1="800.98" x2="54.6" y2="800.98" stroke="#000" stroke-width="1.6"/>
<text x="47.7" y="804.98" font-size="10.9" text-anchor="end" font-weight="normal" >0.5</text>
<line x1="50.4" y1="831.6" x2="54.6" y2="831.6" stroke="#000" stroke-width="1.6"/>
<text x="48.7" y="834.9" font-size="10.9" text-anchor="end" font-weight="normal" >0</text>
<line x1="68.05" y1="820.6" x2="68.05" y2="822.9" stroke="#000" stroke-width="1.7"/>
<line x1="63.45" y1="820.6" x2="72.65" y2="820.6" stroke="#000" stroke-width="1.9"/>
<rect x="59.75" y="824" width="16.6" height="7.6" fill="#fff" stroke="#000" stroke-width="2.2"/>
<line x1="68.05" y1="831.6" x2="68.05" y2="835.6" stroke="#000" stroke-width="1.4"/>
<text x="68.4" y="850.7" font-size="10.9" text-anchor="middle" font-weight="normal" >C</text>
<line x1="93.45" y1="821.1" x2="93.45" y2="825.1" stroke="#000" stroke-width="1.7"/>
<line x1="88.85" y1="821.1" x2="98.05" y2="821.1" stroke="#000" stroke-width="1.9"/>
<rect x="85.15" y="826.2" width="16.6" height="5.4" fill="#a2a2a2" stroke="#000" stroke-width="2.2"/>
<rect x="86.65" y="827.7" width="13.6" height="2.9" fill="none" stroke="#d6d6d6" stroke-width="0.8"/>
<line x1="93.45" y1="831.6" x2="93.45" y2="835.6" stroke="#000" stroke-width="1.4"/>
<text x="93.4" y="850.7" font-size="10.9" text-anchor="middle" font-weight="normal" >0.25</text>
<line x1="118.85" y1="796.4" x2="118.85" y2="811.3" stroke="#000" stroke-width="1.7"/>
<line x1="114.25" y1="796.4" x2="123.45" y2="796.4" stroke="#000" stroke-width="1.9"/>
<rect x="110.55" y="812.4" width="16.6" height="19.2" fill="#a2a2a2" stroke="#000" stroke-width="2.2"/>
<rect x="112.05" y="813.9" width="13.6" height="16.7" fill="none" stroke="#d6d6d6" stroke-width="0.8"/>
<line x1="118.85" y1="831.6" x2="118.85" y2="835.6" stroke="#000" stroke-width="1.4"/>
<text x="119" y="850.7" font-size="10.9" text-anchor="middle" font-weight="normal" >2</text>
<line x1="144.25" y1="731.5" x2="144.25" y2="754.9" stroke="#000" stroke-width="1.7"/>
<line x1="139.65" y1="731.5" x2="148.85" y2="731.5" stroke="#000" stroke-width="1.9"/>
<rect x="135.95" y="756" width="16.6" height="75.6" fill="#a2a2a2" stroke="#000" stroke-width="2.2"/>
<rect x="137.45" y="757.5" width="13.6" height="73.1" fill="none" stroke="#d6d6d6" stroke-width="0.8"/>
<line x1="144.25" y1="831.6" x2="144.25" y2="835.6" stroke="#000" stroke-width="1.4"/>
<text x="144.1" y="850.7" font-size="10.9" text-anchor="middle" font-weight="normal" >4</text>
<line x1="169.65" y1="778.2" x2="169.65" y2="790.2" stroke="#000" stroke-width="1.7"/>
<line x1="165.05" y1="778.2" x2="174.25" y2="778.2" stroke="#000" stroke-width="1.9"/>
<rect x="161.35" y="791.3" width="16.6" height="40.3" fill="#a2a2a2" stroke="#000" stroke-width="2.2"/>
<rect x="162.85" y="792.8" width="13.6" height="37.8" fill="none" stroke="#d6d6d6" stroke-width="0.8"/>
<line x1="169.65" y1="831.6" x2="169.65" y2="835.6" stroke="#000" stroke-width="1.4"/>
<text x="168.3" y="850.7" font-size="10.9" text-anchor="middle" font-weight="normal" >24</text>
<rect x="185.65" y="829.7" width="18.8" height="2.5" fill="#000"/>
<line x1="195.05" y1="831.6" x2="195.05" y2="835.6" stroke="#000" stroke-width="1.4"/>
<text x="194.9" y="850.7" font-size="10.9" text-anchor="middle" font-weight="normal" >0.25</text>
<line x1="220.45" y1="772.3" x2="220.45" y2="781.5" stroke="#000" stroke-width="1.7"/>
<line x1="215.85" y1="772.3" x2="225.05" y2="772.3" stroke="#000" stroke-width="1.9"/>
<rect x="212.15" y="782.6" width="16.6" height="49" fill="#000" stroke="#000" stroke-width="2.2"/>
<line x1="220.45" y1="831.6" x2="220.45" y2="835.6" stroke="#000" stroke-width="1.4"/>
<text x="220.5" y="850.7" font-size="10.9" text-anchor="middle" font-weight="normal" >2</text>
<line x1="245.85" y1="687.2" x2="245.85" y2="720.7" stroke="#000" stroke-width="1.7"/>
<line x1="241.25" y1="687.2" x2="250.45" y2="687.2" stroke="#000" stroke-width="1.9"/>
<rect x="237.55" y="721.8" width="16.6" height="109.8" fill="#000" stroke="#000" stroke-width="2.2"/>
<line x1="245.85" y1="831.6" x2="245.85" y2="835.6" stroke="#000" stroke-width="1.4"/>
<text x="245.7" y="850.7" font-size="10.9" text-anchor="middle" font-weight="normal" >4</text>
<line x1="271.25" y1="708.3" x2="271.25" y2="721.9" stroke="#000" stroke-width="1.7"/>
<line x1="266.65" y1="708.3" x2="275.85" y2="708.3" stroke="#000" stroke-width="1.9"/>
<rect x="262.95" y="723" width="16.6" height="108.6" fill="#000" stroke="#000" stroke-width="2.2"/>
<line x1="271.25" y1="831.6" x2="271.25" y2="835.6" stroke="#000" stroke-width="1.4"/>
<text x="270.6" y="850.7" font-size="10.9" text-anchor="middle" font-weight="normal" >24</text>
<polyline points="170.2,685.9 170.2,676.7 271.5,676.7 271.5,685.9" fill="none" stroke="#000" stroke-width="1.7"/>
<text x="219.8" y="678.7" font-size="10" text-anchor="middle" font-weight="normal" >**</text>
<text transform="translate(24,762.9) rotate(-90)" font-size="11.2" text-anchor="middle">ROD ATF4/NCOA3</text>
<text x="82.9" y="870.11" font-size="11.2" text-anchor="start" font-weight="normal" >Time Post 5.0µg/ml TM (Hrs)</text>
<text x="0.6" y="674.34" font-size="11" text-anchor="start" font-weight="bold" >D</text>
<line x1="52.1" y1="899.1" x2="52.1" y2="1053.8" stroke="#000" stroke-width="1.6"/>
<line x1="47.9" y1="1053" x2="281.4" y2="1053" stroke="#000" stroke-width="1.6"/>
<line x1="47.9" y1="899.9" x2="52.1" y2="899.9" stroke="#000" stroke-width="1.6"/>
<text x="44.1" y="905.9" font-size="10.9" text-anchor="end" font-weight="normal" >2.5</text>
<line x1="47.9" y1="930.52" x2="52.1" y2="930.52" stroke="#000" stroke-width="1.6"/>
<text x="44.1" y="935.98" font-size="10.9" text-anchor="end" font-weight="normal" >2.0</text>
<line x1="47.9" y1="961.14" x2="52.1" y2="961.14" stroke="#000" stroke-width="1.6"/>
<text x="44.1" y="966.06" font-size="10.9" text-anchor="end" font-weight="normal" >1.5</text>
<line x1="47.9" y1="991.76" x2="52.1" y2="991.76" stroke="#000" stroke-width="1.6"/>
<text x="44.1" y="996.14" font-size="10.9" text-anchor="end" font-weight="normal" >1.0</text>
<line x1="47.9" y1="1022.38" x2="52.1" y2="1022.38" stroke="#000" stroke-width="1.6"/>
<text x="44.1" y="1026.22" font-size="10.9" text-anchor="end" font-weight="normal" >0.5</text>
<line x1="47.9" y1="1053" x2="52.1" y2="1053" stroke="#000" stroke-width="1.6"/>
<text x="46.3" y="1056.3" font-size="10.9" text-anchor="end" font-weight="normal" >0</text>
<line x1="65.05" y1="1050.6" x2="65.05" y2="1051.3" stroke="#000" stroke-width="1.7"/>
<line x1="60.45" y1="1050.6" x2="69.65" y2="1050.6" stroke="#000" stroke-width="1.9"/>
<rect x="55.65" y="1051.1" width="18.8" height="2.5" fill="#000"/>
<line x1="65.05" y1="1053" x2="65.05" y2="1057" stroke="#000" stroke-width="1.4"/>
<text x="66.4" y="1070.7" font-size="10.9" text-anchor="middle" font-weight="normal" >C</text>
<line x1="90.55" y1="1049" x2="90.55" y2="1049.6" stroke="#000" stroke-width="1.7"/>
<line x1="85.95" y1="1049" x2="95.15" y2="1049" stroke="#000" stroke-width="1.9"/>
<rect x="81.15" y="1049.4" width="18.8" height="4.2" fill="#000"/>
<rect x="83.35" y="1051.2" width="14.4" height="1" fill="#bbb"/>
<line x1="90.55" y1="1053" x2="90.55" y2="1057" stroke="#000" stroke-width="1.4"/>
<text x="90.2" y="1070.7" font-size="10.9" text-anchor="middle" font-weight="normal" >0.25</text>
<line x1="116.05" y1="1049.2" x2="116.05" y2="1049.8" stroke="#000" stroke-width="1.7"/>
<line x1="111.45" y1="1049.2" x2="120.65" y2="1049.2" stroke="#000" stroke-width="1.9"/>
<rect x="106.65" y="1049.6" width="18.8" height="4" fill="#000"/>
<rect x="108.85" y="1051.4" width="14.4" height="1" fill="#bbb"/>
<line x1="116.05" y1="1053" x2="116.05" y2="1057" stroke="#000" stroke-width="1.4"/>
<text x="115.4" y="1070.7" font-size="10.9" text-anchor="middle" font-weight="normal" >2</text>
<line x1="141.55" y1="1040.8" x2="141.55" y2="1043.8" stroke="#000" stroke-width="1.7"/>
<line x1="136.95" y1="1040.8" x2="146.15" y2="1040.8" stroke="#000" stroke-width="1.9"/>
<rect x="133.25" y="1044.9" width="16.6" height="8.1" fill="#a2a2a2" stroke="#000" stroke-width="2.2"/>
<rect x="134.75" y="1046.4" width="13.6" height="5.6" fill="none" stroke="#d6d6d6" stroke-width="0.8"/>
<line x1="141.55" y1="1053" x2="141.55" y2="1057" stroke="#000" stroke-width="1.4"/>
<text x="140" y="1070.7" font-size="10.9" text-anchor="middle" font-weight="normal" >4</text>
<line x1="167.05" y1="1021" x2="167.05" y2="1030.2" stroke="#000" stroke-width="1.7"/>
<line x1="162.45" y1="1021" x2="171.65" y2="1021" stroke="#000" stroke-width="1.9"/>
<rect x="158.75" y="1031.3" width="16.6" height="21.7" fill="#a2a2a2" stroke="#000" stroke-width="2.2"/>
<rect x="160.25" y="1032.8" width="13.6" height="19.2" fill="none" stroke="#d6d6d6" stroke-width="0.8"/>
<line x1="167.05" y1="1053" x2="167.05" y2="1057" stroke="#000" stroke-width="1.4"/>
<text x="164.3" y="1070.7" font-size="10.9" text-anchor="middle" font-weight="normal" >24</text>
<line x1="192.55" y1="1035.6" x2="192.55" y2="1043.8" stroke="#000" stroke-width="1.7"/>
<line x1="187.95" y1="1035.6" x2="197.15" y2="1035.6" stroke="#000" stroke-width="1.9"/>
<rect x="184.25" y="1044.9" width="16.6" height="8.1" fill="#000" stroke="#000" stroke-width="2.2"/>
<line x1="192.55" y1="1053" x2="192.55" y2="1057" stroke="#000" stroke-width="1.4"/>
<text x="192.2" y="1070.7" font-size="10.9" text-anchor="middle" font-weight="normal" >0.25</text>
<line x1="218.05" y1="1040.1" x2="218.05" y2="1045.8" stroke="#000" stroke-width="1.7"/>
<line x1="213.45" y1="1040.1" x2="222.65" y2="1040.1" stroke="#000" stroke-width="1.9"/>
<rect x="209.75" y="1046.9" width="16.6" height="6.1" fill="#000" stroke="#000" stroke-width="2.2"/>
<line x1="218.05" y1="1053" x2="218.05" y2="1057" stroke="#000" stroke-width="1.4"/>
<text x="216.3" y="1070.7" font-size="10.9" text-anchor="middle" font-weight="normal" >2</text>
<line x1="243.55" y1="953.7" x2="243.55" y2="982.3" stroke="#000" stroke-width="1.7"/>
<line x1="238.95" y1="953.7" x2="248.15" y2="953.7" stroke="#000" stroke-width="1.9"/>
<rect x="235.25" y="983.4" width="16.6" height="69.6" fill="#000" stroke="#000" stroke-width="2.2"/>
<line x1="243.55" y1="1053" x2="243.55" y2="1057" stroke="#000" stroke-width="1.4"/>
<text x="242.4" y="1070.7" font-size="10.9" text-anchor="middle" font-weight="normal" >4</text>
<line x1="269.05" y1="918" x2="269.05" y2="937.6" stroke="#000" stroke-width="1.7"/>
<line x1="264.45" y1="918" x2="273.65" y2="918" stroke="#000" stroke-width="1.9"/>
<rect x="260.75" y="938.7" width="16.6" height="114.3" fill="#000" stroke="#000" stroke-width="2.2"/>
<line x1="269.05" y1="1053" x2="269.05" y2="1057" stroke="#000" stroke-width="1.4"/>
<text x="265.6" y="1070.7" font-size="10.9" text-anchor="middle" font-weight="normal" >24</text>
<polyline points="141.7,946.5 141.7,937.6 242.9,937.6 242.9,946.5" fill="none" stroke="#000" stroke-width="1.7"/>
<text x="190.8" y="938.6" font-size="10" text-anchor="middle" font-weight="normal" >**</text>
<polyline points="167.2,937.6 167.2,904.3 268.5,904.3 268.5,912.3" fill="none" stroke="#000" stroke-width="1.7"/>
<text x="216.4" y="906.3" font-size="10" text-anchor="middle" font-weight="normal" >***</text>
<text transform="translate(22.7,985.5) rotate(-90)" font-size="11.2" text-anchor="middle">ROD GADD153/NCOA3</text>
<text x="86.6" y="1090.01" font-size="11.2" text-anchor="start" font-weight="normal" >Time Post 5.0µg/ml TM (Hrs)</text>
<text x="1.2" y="901.94" font-size="11" text-anchor="start" font-weight="bold" >E</text>
<line x1="410.7" y1="251.1" x2="410.7" y2="405.1" stroke="#000" stroke-width="1.6"/>
<line x1="406.5" y1="404.3" x2="638" y2="404.3" stroke="#000" stroke-width="1.6"/>
<line x1="406.5" y1="251.9" x2="410.7" y2="251.9" stroke="#000" stroke-width="1.6"/>
<text x="404.1" y="257.1" font-size="10.9" text-anchor="end" font-weight="normal" >8</text>
<line x1="406.5" y1="290" x2="410.7" y2="290" stroke="#000" stroke-width="1.6"/>
<text x="404.1" y="294.65" font-size="10.9" text-anchor="end" font-weight="normal" >6</text>
<line x1="406.5" y1="328.1" x2="410.7" y2="328.1" stroke="#000" stroke-width="1.6"/>
<text x="404.1" y="332.2" font-size="10.9" text-anchor="end" font-weight="normal" >4</text>
<line x1="406.5" y1="366.2" x2="410.7" y2="366.2" stroke="#000" stroke-width="1.6"/>
<text x="404.1" y="369.75" font-size="10.9" text-anchor="end" font-weight="normal" >2</text>
<line x1="406.5" y1="404.3" x2="410.7" y2="404.3" stroke="#000" stroke-width="1.6"/>
<text x="404.1" y="407.3" font-size="10.9" text-anchor="end" font-weight="normal" >0</text>
<line x1="423.25" y1="378.5" x2="423.25" y2="380.2" stroke="#000" stroke-width="1.7"/>
<line x1="418.65" y1="378.5" x2="427.85" y2="378.5" stroke="#000" stroke-width="1.9"/>
<rect x="414.95" y="381.3" width="16.6" height="23" fill="#fff" stroke="#000" stroke-width="2.2"/>
<line x1="423.25" y1="404.3" x2="423.25" y2="408.3" stroke="#000" stroke-width="1.4"/>
<text x="423.7" y="421.7" font-size="10.9" text-anchor="middle" font-weight="normal" >C</text>
<line x1="448.64" y1="325.1" x2="448.64" y2="355.9" stroke="#000" stroke-width="1.7"/>
<line x1="444.04" y1="325.1" x2="453.24" y2="325.1" stroke="#000" stroke-width="1.9"/>
<rect x="440.34" y="357" width="16.6" height="47.3" fill="#a2a2a2" stroke="#000" stroke-width="2.2"/>
<rect x="441.84" y="358.5" width="13.6" height="44.8" fill="none" stroke="#d6d6d6" stroke-width="0.8"/>
<line x1="448.64" y1="404.3" x2="448.64" y2="408.3" stroke="#000" stroke-width="1.4"/>
<text x="447" y="421.7" font-size="10.9" text-anchor="middle" font-weight="normal" >0.25</text>
<line x1="474.03" y1="294.1" x2="474.03" y2="341.7" stroke="#000" stroke-width="1.7"/>
<line x1="469.43" y1="294.1" x2="478.63" y2="294.1" stroke="#000" stroke-width="1.9"/>
<rect x="465.73" y="342.8" width="16.6" height="61.5" fill="#a2a2a2" stroke="#000" stroke-width="2.2"/>
<rect x="467.23" y="344.3" width="13.6" height="59" fill="none" stroke="#d6d6d6" stroke-width="0.8"/>
<line x1="474.03" y1="404.3" x2="474.03" y2="408.3" stroke="#000" stroke-width="1.4"/>
<text x="473.3" y="421.7" font-size="10.9" text-anchor="middle" font-weight="normal" >2</text>
<line x1="499.42" y1="355.1" x2="499.42" y2="368.3" stroke="#000" stroke-width="1.7"/>
<line x1="494.82" y1="355.1" x2="504.02" y2="355.1" stroke="#000" stroke-width="1.9"/>
<rect x="491.12" y="369.4" width="16.6" height="34.9" fill="#a2a2a2" stroke="#000" stroke-width="2.2"/>
<rect x="492.62" y="370.9" width="13.6" height="32.4" fill="none" stroke="#d6d6d6" stroke-width="0.8"/>
<line x1="499.42" y1="404.3" x2="499.42" y2="408.3" stroke="#000" stroke-width="1.4"/>
<text x="498.2" y="421.7" font-size="10.9" text-anchor="middle" font-weight="normal" >4</text>
<line x1="524.81" y1="326.9" x2="524.81" y2="356.2" stroke="#000" stroke-width="1.7"/>
<line x1="520.21" y1="326.9" x2="529.41" y2="326.9" stroke="#000" stroke-width="1.9"/>
<rect x="516.51" y="357.3" width="16.6" height="47" fill="#a2a2a2" stroke="#000" stroke-width="2.2"/>
<rect x="518.01" y="358.8" width="13.6" height="44.5" fill="none" stroke="#d6d6d6" stroke-width="0.8"/>
<line x1="524.81" y1="404.3" x2="524.81" y2="408.3" stroke="#000" stroke-width="1.4"/>
<text x="522.6" y="421.7" font-size="10.9" text-anchor="middle" font-weight="normal" >24</text>
<line x1="550.2" y1="337.4" x2="550.2" y2="363.7" stroke="#000" stroke-width="1.7"/>
<line x1="545.6" y1="337.4" x2="554.8" y2="337.4" stroke="#000" stroke-width="1.9"/>
<rect x="541.9" y="364.8" width="16.6" height="39.5" fill="#000" stroke="#000" stroke-width="2.2"/>
<line x1="550.2" y1="404.3" x2="550.2" y2="408.3" stroke="#000" stroke-width="1.4"/>
<text x="549.9" y="421.7" font-size="10.9" text-anchor="middle" font-weight="normal" >0.25</text>
<line x1="575.59" y1="341.3" x2="575.59" y2="346.3" stroke="#000" stroke-width="1.7"/>
<line x1="570.99" y1="341.3" x2="580.19" y2="341.3" stroke="#000" stroke-width="1.9"/>
<rect x="567.29" y="347.4" width="16.6" height="56.9" fill="#000" stroke="#000" stroke-width="2.2"/>
<line x1="575.59" y1="404.3" x2="575.59" y2="408.3" stroke="#000" stroke-width="1.4"/>
<text x="574.6" y="421.7" font-size="10.9" text-anchor="middle" font-weight="normal" >2</text>
<line x1="600.98" y1="351.7" x2="600.98" y2="362.2" stroke="#000" stroke-width="1.7"/>
<line x1="596.38" y1="351.7" x2="605.58" y2="351.7" stroke="#000" stroke-width="1.9"/>
<rect x="592.68" y="363.3" width="16.6" height="41" fill="#000" stroke="#000" stroke-width="2.2"/>
<line x1="600.98" y1="404.3" x2="600.98" y2="408.3" stroke="#000" stroke-width="1.4"/>
<text x="600" y="421.7" font-size="10.9" text-anchor="middle" font-weight="normal" >4</text>
<line x1="626.37" y1="370.3" x2="626.37" y2="376.6" stroke="#000" stroke-width="1.7"/>
<line x1="621.77" y1="370.3" x2="630.97" y2="370.3" stroke="#000" stroke-width="1.9"/>
<rect x="618.07" y="377.7" width="16.6" height="26.6" fill="#000" stroke="#000" stroke-width="2.2"/>
<line x1="626.37" y1="404.3" x2="626.37" y2="408.3" stroke="#000" stroke-width="1.4"/>
<text x="623.8" y="421.7" font-size="10.9" text-anchor="middle" font-weight="normal" >24</text>
<text transform="translate(377.9,333.2) rotate(-90)" font-size="11.2" text-anchor="middle">ROD p-eIF2α/PDIA2</text>
<text x="439.3" y="442.91" font-size="11.2" text-anchor="start" font-weight="normal" >Time Post 250nM TH (Hrs)</text>
<text x="352.9" y="250.34" font-size="11" text-anchor="start" font-weight="bold" >G</text>
<line x1="411.5" y1="461" x2="411.5" y2="615.6" stroke="#000" stroke-width="1.6"/>
<line x1="407.3" y1="614.8" x2="640" y2="614.8" stroke="#000" stroke-width="1.6"/>
<line x1="407.3" y1="461.8" x2="411.5" y2="461.8" stroke="#000" stroke-width="1.6"/>
<text x="404" y="467.1" font-size="10.9" text-anchor="end" font-weight="normal" >2.5</text>
<line x1="407.3" y1="492.4" x2="411.5" y2="492.4" stroke="#000" stroke-width="1.6"/>
<text x="404" y="497.32" font-size="10.9" text-anchor="end" font-weight="normal" >2.0</text>
<line x1="407.3" y1="523" x2="411.5" y2="523" stroke="#000" stroke-width="1.6"/>
<text x="404" y="527.54" font-size="10.9" text-anchor="end" font-weight="normal" >1.5</text>
<line x1="407.3" y1="553.6" x2="411.5" y2="553.6" stroke="#000" stroke-width="1.6"/>
<text x="404" y="557.76" font-size="10.9" text-anchor="end" font-weight="normal" >1.0</text>
<line x1="407.3" y1="584.2" x2="411.5" y2="584.2" stroke="#000" stroke-width="1.6"/>
<text x="404" y="587.98" font-size="10.9" text-anchor="end" font-weight="normal" >0.5</text>
<line x1="407.3" y1="614.8" x2="411.5" y2="614.8" stroke="#000" stroke-width="1.6"/>
<text x="406" y="618.2" font-size="10.9" text-anchor="end" font-weight="normal" >0</text>
<line x1="424.95" y1="607.5" x2="424.95" y2="609.5" stroke="#000" stroke-width="1.7"/>
<line x1="420.35" y1="607.5" x2="429.55" y2="607.5" stroke="#000" stroke-width="1.9"/>
<rect x="416.65" y="610.6" width="16.6" height="4.2" fill="#fff" stroke="#000" stroke-width="2.2"/>
<line x1="424.95" y1="614.8" x2="424.95" y2="618.8" stroke="#000" stroke-width="1.4"/>
<text x="424.8" y="633.5" font-size="10.9" text-anchor="middle" font-weight="normal" >C</text>
<line x1="450.25" y1="590.7" x2="450.25" y2="598.4" stroke="#000" stroke-width="1.7"/>
<line x1="445.65" y1="590.7" x2="454.85" y2="590.7" stroke="#000" stroke-width="1.9"/>
<rect x="441.95" y="599.5" width="16.6" height="15.3" fill="#a2a2a2" stroke="#000" stroke-width="2.2"/>
<rect x="443.45" y="601" width="13.6" height="12.8" fill="none" stroke="#d6d6d6" stroke-width="0.8"/>
<line x1="450.25" y1="614.8" x2="450.25" y2="618.8" stroke="#000" stroke-width="1.4"/>
<text x="450.5" y="633.5" font-size="10.9" text-anchor="middle" font-weight="normal" >0.25</text>
<line x1="475.55" y1="573.3" x2="475.55" y2="590.7" stroke="#000" stroke-width="1.7"/>
<line x1="470.95" y1="573.3" x2="480.15" y2="573.3" stroke="#000" stroke-width="1.9"/>
<rect x="467.25" y="591.8" width="16.6" height="23" fill="#a2a2a2" stroke="#000" stroke-width="2.2"/>
<rect x="468.75" y="593.3" width="13.6" height="20.5" fill="none" stroke="#d6d6d6" stroke-width="0.8"/>
<line x1="475.55" y1="614.8" x2="475.55" y2="618.8" stroke="#000" stroke-width="1.4"/>
<text x="475.4" y="633.5" font-size="10.9" text-anchor="middle" font-weight="normal" >2</text>
<line x1="500.85" y1="561.1" x2="500.85" y2="574.8" stroke="#000" stroke-width="1.7"/>
<line x1="496.25" y1="561.1" x2="505.45" y2="561.1" stroke="#000" stroke-width="1.9"/>
<rect x="492.55" y="575.9" width="16.6" height="38.9" fill="#a2a2a2" stroke="#000" stroke-width="2.2"/>
<rect x="494.05" y="577.4" width="13.6" height="36.4" fill="none" stroke="#d6d6d6" stroke-width="0.8"/>
<line x1="500.85" y1="614.8" x2="500.85" y2="618.8" stroke="#000" stroke-width="1.4"/>
<text x="499.6" y="633.5" font-size="10.9" text-anchor="middle" font-weight="normal" >4</text>
<line x1="526.15" y1="561.2" x2="526.15" y2="567.8" stroke="#000" stroke-width="1.7"/>
<line x1="521.55" y1="561.2" x2="530.75" y2="561.2" stroke="#000" stroke-width="1.9"/>
<rect x="517.85" y="568.9" width="16.6" height="45.9" fill="#a2a2a2" stroke="#000" stroke-width="2.2"/>
<rect x="519.35" y="570.4" width="13.6" height="43.4" fill="none" stroke="#d6d6d6" stroke-width="0.8"/>
<line x1="526.15" y1="614.8" x2="526.15" y2="618.8" stroke="#000" stroke-width="1.4"/>
<text x="524.3" y="633.5" font-size="10.9" text-anchor="middle" font-weight="normal" >24</text>
<line x1="551.45" y1="491.8" x2="551.45" y2="538.8" stroke="#000" stroke-width="1.7"/>
<line x1="546.85" y1="491.8" x2="556.05" y2="491.8" stroke="#000" stroke-width="1.9"/>
<rect x="543.15" y="539.9" width="16.6" height="74.9" fill="#000" stroke="#000" stroke-width="2.2"/>
<line x1="551.45" y1="614.8" x2="551.45" y2="618.8" stroke="#000" stroke-width="1.4"/>
<text x="551.8" y="633.5" font-size="10.9" text-anchor="middle" font-weight="normal" >0.25</text>
<line x1="576.75" y1="544.8" x2="576.75" y2="565.1" stroke="#000" stroke-width="1.7"/>
<line x1="572.15" y1="544.8" x2="581.35" y2="544.8" stroke="#000" stroke-width="1.9"/>
<rect x="568.45" y="566.2" width="16.6" height="48.6" fill="#000" stroke="#000" stroke-width="2.2"/>
<line x1="576.75" y1="614.8" x2="576.75" y2="618.8" stroke="#000" stroke-width="1.4"/>
<text x="576.3" y="633.5" font-size="10.9" text-anchor="middle" font-weight="normal" >2</text>
<line x1="602.05" y1="496.9" x2="602.05" y2="525.9" stroke="#000" stroke-width="1.7"/>
<line x1="597.45" y1="496.9" x2="606.65" y2="496.9" stroke="#000" stroke-width="1.9"/>
<rect x="593.75" y="527" width="16.6" height="87.8" fill="#000" stroke="#000" stroke-width="2.2"/>
<line x1="602.05" y1="614.8" x2="602.05" y2="618.8" stroke="#000" stroke-width="1.4"/>
<text x="600.7" y="633.5" font-size="10.9" text-anchor="middle" font-weight="normal" >4</text>
<line x1="627.35" y1="536.7" x2="627.35" y2="544.8" stroke="#000" stroke-width="1.7"/>
<line x1="622.75" y1="536.7" x2="631.95" y2="536.7" stroke="#000" stroke-width="1.9"/>
<rect x="619.05" y="545.9" width="16.6" height="68.9" fill="#000" stroke="#000" stroke-width="2.2"/>
<line x1="627.35" y1="614.8" x2="627.35" y2="618.8" stroke="#000" stroke-width="1.4"/>
<text x="625.6" y="633.5" font-size="10.9" text-anchor="middle" font-weight="normal" >24</text>
<text transform="translate(380.6,549.2) rotate(-90)" font-size="11.2" text-anchor="middle">ROD XBP1s/PDIA2</text>
<text x="450.7" y="654.81" font-size="11.2" text-anchor="start" font-weight="normal" >Time Post 250nM TH (Hrs)</text>
<text x="352.9" y="459.54" font-size="11" text-anchor="start" font-weight="bold" >H</text>
<line x1="413.2" y1="675.6" x2="413.2" y2="829" stroke="#000" stroke-width="1.6"/>
<line x1="409" y1="828.2" x2="639.2" y2="828.2" stroke="#000" stroke-width="1.6"/>
<line x1="409" y1="676.4" x2="413.2" y2="676.4" stroke="#000" stroke-width="1.6"/>
<text x="405.8" y="681.3" font-size="10.9" text-anchor="end" font-weight="normal" >4</text>
<line x1="409" y1="714.35" x2="413.2" y2="714.35" stroke="#000" stroke-width="1.6"/>
<text x="405.8" y="718.88" font-size="10.9" text-anchor="end" font-weight="normal" >3</text>
<line x1="409" y1="752.3" x2="413.2" y2="752.3" stroke="#000" stroke-width="1.6"/>
<text x="405.8" y="756.45" font-size="10.9" text-anchor="end" font-weight="normal" >2</text>
<line x1="409" y1="790.25" x2="413.2" y2="790.25" stroke="#000" stroke-width="1.6"/>
<text x="405.8" y="794.03" font-size="10.9" text-anchor="end" font-weight="normal" >1</text>
<line x1="409" y1="828.2" x2="413.2" y2="828.2" stroke="#000" stroke-width="1.6"/>
<text x="405.8" y="831.6" font-size="10.9" text-anchor="end" font-weight="normal" >0</text>
<line x1="426.15" y1="819.9" x2="426.15" y2="821.9" stroke="#000" stroke-width="1.7"/>
<line x1="421.55" y1="819.9" x2="430.75" y2="819.9" stroke="#000" stroke-width="1.9"/>
<rect x="417.85" y="823" width="16.6" height="5.2" fill="#fff" stroke="#000" stroke-width="2.2"/>
<line x1="426.15" y1="828.2" x2="426.15" y2="832.2" stroke="#000" stroke-width="1.4"/>
<text x="426.5" y="846.4" font-size="10.9" text-anchor="middle" font-weight="normal" >C</text>
<rect x="441.95" y="827.3" width="18.8" height="1.5" fill="#000"/>
<line x1="451.35" y1="828.2" x2="451.35" y2="832.2" stroke="#000" stroke-width="1.4"/>
<text x="451.8" y="846.4" font-size="10.9" text-anchor="middle" font-weight="normal" >0.25</text>
<line x1="476.55" y1="805" x2="476.55" y2="811.2" stroke="#000" stroke-width="1.7"/>
<line x1="471.95" y1="805" x2="481.15" y2="805" stroke="#000" stroke-width="1.9"/>
<rect x="468.25" y="812.3" width="16.6" height="15.9" fill="#a2a2a2" stroke="#000" stroke-width="2.2"/>
<rect x="469.75" y="813.8" width="13.6" height="13.4" fill="none" stroke="#d6d6d6" stroke-width="0.8"/>
<line x1="476.55" y1="828.2" x2="476.55" y2="832.2" stroke="#000" stroke-width="1.4"/>
<text x="476.3" y="846.4" font-size="10.9" text-anchor="middle" font-weight="normal" >2</text>
<line x1="501.75" y1="783.7" x2="501.75" y2="796" stroke="#000" stroke-width="1.7"/>
<line x1="497.15" y1="783.7" x2="506.35" y2="783.7" stroke="#000" stroke-width="1.9"/>
<rect x="493.45" y="797.1" width="16.6" height="31.1" fill="#a2a2a2" stroke="#000" stroke-width="2.2"/>
<rect x="494.95" y="798.6" width="13.6" height="28.6" fill="none" stroke="#d6d6d6" stroke-width="0.8"/>
<line x1="501.75" y1="828.2" x2="501.75" y2="832.2" stroke="#000" stroke-width="1.4"/>
<text x="500.8" y="846.4" font-size="10.9" text-anchor="middle" font-weight="normal" >4</text>
<line x1="526.95" y1="778.8" x2="526.95" y2="782.7" stroke="#000" stroke-width="1.7"/>
<line x1="522.35" y1="778.8" x2="531.55" y2="778.8" stroke="#000" stroke-width="1.9"/>
<rect x="518.65" y="783.8" width="16.6" height="44.4" fill="#a2a2a2" stroke="#000" stroke-width="2.2"/>
<rect x="520.15" y="785.3" width="13.6" height="41.9" fill="none" stroke="#d6d6d6" stroke-width="0.8"/>
<line x1="526.95" y1="828.2" x2="526.95" y2="832.2" stroke="#000" stroke-width="1.4"/>
<text x="525" y="846.4" font-size="10.9" text-anchor="middle" font-weight="normal" >24</text>
<rect x="542.75" y="827.3" width="18.8" height="1.5" fill="#000"/>
<line x1="552.15" y1="828.2" x2="552.15" y2="832.2" stroke="#000" stroke-width="1.4"/>
<text x="553.4" y="846.4" font-size="10.9" text-anchor="middle" font-weight="normal" >0.25</text>
<line x1="577.35" y1="717.8" x2="577.35" y2="725.2" stroke="#000" stroke-width="1.7"/>
<line x1="572.75" y1="717.8" x2="581.95" y2="717.8" stroke="#000" stroke-width="1.9"/>
<rect x="569.05" y="726.3" width="16.6" height="101.9" fill="#000" stroke="#000" stroke-width="2.2"/>
<line x1="577.35" y1="828.2" x2="577.35" y2="832.2" stroke="#000" stroke-width="1.4"/>
<text x="576.7" y="846.4" font-size="10.9" text-anchor="middle" font-weight="normal" >2</text>
<line x1="602.55" y1="716.3" x2="602.55" y2="722.9" stroke="#000" stroke-width="1.7"/>
<line x1="597.95" y1="716.3" x2="607.15" y2="716.3" stroke="#000" stroke-width="1.9"/>
<rect x="594.25" y="724" width="16.6" height="104.2" fill="#000" stroke="#000" stroke-width="2.2"/>
<line x1="602.55" y1="828.2" x2="602.55" y2="832.2" stroke="#000" stroke-width="1.4"/>
<text x="602.4" y="846.4" font-size="10.9" text-anchor="middle" font-weight="normal" >4</text>
<line x1="627.75" y1="714.8" x2="627.75" y2="736.9" stroke="#000" stroke-width="1.7"/>
<line x1="623.15" y1="714.8" x2="632.35" y2="714.8" stroke="#000" stroke-width="1.9"/>
<rect x="619.45" y="738" width="16.6" height="90.2" fill="#000" stroke="#000" stroke-width="2.2"/>
<line x1="627.75" y1="828.2" x2="627.75" y2="832.2" stroke="#000" stroke-width="1.4"/>
<text x="625.9" y="846.4" font-size="10.9" text-anchor="middle" font-weight="normal" >24</text>
<polyline points="475.8,709.4 475.8,700.5 576.4,700.5 576.4,709.4" fill="none" stroke="#000" stroke-width="1.7"/>
<text x="527.3" y="702.6" font-size="10" text-anchor="middle" font-weight="normal" >***</text>
<polyline points="498.9,700.5 498.9,689.9 600.3,689.9 600.3,698.9" fill="none" stroke="#000" stroke-width="1.7"/>
<text x="550.9" y="691.5" font-size="10" text-anchor="middle" font-weight="normal" >***</text>
<polyline points="525.8,689.9 525.8,678.9 626.7,678.9 626.7,687.5" fill="none" stroke="#000" stroke-width="1.7"/>
<text x="575.8" y="680.8" font-size="10" text-anchor="middle" font-weight="normal" >**</text>
<text transform="translate(382.8,762.8) rotate(-90)" font-size="11.2" text-anchor="middle">ROD ATF4/NCOA3</text>
<text x="443.8" y="868.21" font-size="11.2" text-anchor="start" font-weight="normal" >Time Post 250nM TH (Hrs)</text>
<text x="352.9" y="675.34" font-size="11" text-anchor="start" font-weight="bold" >I</text>
<line x1="407.5" y1="904.7" x2="407.5" y2="1055.7" stroke="#000" stroke-width="1.6"/>
<line x1="403.3" y1="1054.9" x2="633.2" y2="1054.9" stroke="#000" stroke-width="1.6"/>
<line x1="403.3" y1="905.5" x2="407.5" y2="905.5" stroke="#000" stroke-width="1.6"/>
<text x="399.8" y="910.2" font-size="10.9" text-anchor="end" font-weight="normal" >4</text>
<line x1="403.3" y1="942.85" x2="407.5" y2="942.85" stroke="#000" stroke-width="1.6"/>
<text x="399.8" y="947.18" font-size="10.9" text-anchor="end" font-weight="normal" >3</text>
<line x1="403.3" y1="980.2" x2="407.5" y2="980.2" stroke="#000" stroke-width="1.6"/>
<text x="399.8" y="984.15" font-size="10.9" text-anchor="end" font-weight="normal" >2</text>
<line x1="403.3" y1="1017.55" x2="407.5" y2="1017.55" stroke="#000" stroke-width="1.6"/>
<text x="399.8" y="1021.13" font-size="10.9" text-anchor="end" font-weight="normal" >1</text>
<line x1="403.3" y1="1054.9" x2="407.5" y2="1054.9" stroke="#000" stroke-width="1.6"/>
<text x="399.8" y="1058.1" font-size="10.9" text-anchor="end" font-weight="normal" >0</text>
<line x1="420.45" y1="1052" x2="420.45" y2="1053" stroke="#000" stroke-width="1.7"/>
<line x1="415.85" y1="1052" x2="425.05" y2="1052" stroke="#000" stroke-width="1.9"/>
<rect x="411.05" y="1052.8" width="18.8" height="2.7" fill="#000"/>
<line x1="420.45" y1="1054.9" x2="420.45" y2="1058.9" stroke="#000" stroke-width="1.4"/>
<text x="421" y="1073.5" font-size="10.9" text-anchor="middle" font-weight="normal" >C</text>
<line x1="445.55" y1="1049.2" x2="445.55" y2="1051.7" stroke="#000" stroke-width="1.7"/>
<line x1="440.95" y1="1049.2" x2="450.15" y2="1049.2" stroke="#000" stroke-width="1.9"/>
<rect x="436.15" y="1051.5" width="18.8" height="4" fill="#000"/>
<rect x="438.35" y="1053.3" width="14.4" height="1" fill="#bbb"/>
<line x1="445.55" y1="1054.9" x2="445.55" y2="1058.9" stroke="#000" stroke-width="1.4"/>
<text x="446.1" y="1073.5" font-size="10.9" text-anchor="middle" font-weight="normal" >0.25</text>
<line x1="470.65" y1="1052.2" x2="470.65" y2="1053.2" stroke="#000" stroke-width="1.7"/>
<line x1="466.05" y1="1052.2" x2="475.25" y2="1052.2" stroke="#000" stroke-width="1.9"/>
<rect x="461.25" y="1053" width="18.8" height="2.5" fill="#000"/>
<line x1="470.65" y1="1054.9" x2="470.65" y2="1058.9" stroke="#000" stroke-width="1.4"/>
<text x="470.1" y="1073.5" font-size="10.9" text-anchor="middle" font-weight="normal" >2</text>
<line x1="495.75" y1="1031.3" x2="495.75" y2="1036.3" stroke="#000" stroke-width="1.7"/>
<line x1="491.15" y1="1031.3" x2="500.35" y2="1031.3" stroke="#000" stroke-width="1.9"/>
<rect x="487.45" y="1037.4" width="16.6" height="17.5" fill="#a2a2a2" stroke="#000" stroke-width="2.2"/>
<rect x="488.95" y="1038.9" width="13.6" height="15" fill="none" stroke="#d6d6d6" stroke-width="0.8"/>
<line x1="495.75" y1="1054.9" x2="495.75" y2="1058.9" stroke="#000" stroke-width="1.4"/>
<text x="494.6" y="1073.5" font-size="10.9" text-anchor="middle" font-weight="normal" >4</text>
<line x1="520.85" y1="1000.3" x2="520.85" y2="1004.8" stroke="#000" stroke-width="1.7"/>
<line x1="516.25" y1="1000.3" x2="525.45" y2="1000.3" stroke="#000" stroke-width="1.9"/>
<rect x="512.55" y="1005.9" width="16.6" height="49" fill="#a2a2a2" stroke="#000" stroke-width="2.2"/>
<rect x="514.05" y="1007.4" width="13.6" height="46.5" fill="none" stroke="#d6d6d6" stroke-width="0.8"/>
<line x1="520.85" y1="1054.9" x2="520.85" y2="1058.9" stroke="#000" stroke-width="1.4"/>
<text x="519" y="1073.5" font-size="10.9" text-anchor="middle" font-weight="normal" >24</text>
<line x1="545.95" y1="1046.1" x2="545.95" y2="1050.6" stroke="#000" stroke-width="1.7"/>
<line x1="541.35" y1="1046.1" x2="550.55" y2="1046.1" stroke="#000" stroke-width="1.9"/>
<rect x="536.55" y="1050.4" width="18.8" height="5.1" fill="#000"/>
<line x1="545.95" y1="1054.9" x2="545.95" y2="1058.9" stroke="#000" stroke-width="1.4"/>
<text x="546.8" y="1073.5" font-size="10.9" text-anchor="middle" font-weight="normal" >0.25</text>
<line x1="571.05" y1="1041" x2="571.05" y2="1042.2" stroke="#000" stroke-width="1.7"/>
<line x1="566.45" y1="1041" x2="575.65" y2="1041" stroke="#000" stroke-width="1.9"/>
<rect x="562.75" y="1043.3" width="16.6" height="11.6" fill="#000" stroke="#000" stroke-width="2.2"/>
<line x1="571.05" y1="1054.9" x2="571.05" y2="1058.9" stroke="#000" stroke-width="1.4"/>
<text x="570.5" y="1073.5" font-size="10.9" text-anchor="middle" font-weight="normal" >2</text>
<line x1="596.15" y1="1005.7" x2="596.15" y2="1013.2" stroke="#000" stroke-width="1.7"/>
<line x1="591.55" y1="1005.7" x2="600.75" y2="1005.7" stroke="#000" stroke-width="1.9"/>
<rect x="587.85" y="1014.3" width="16.6" height="40.6" fill="#000" stroke="#000" stroke-width="2.2"/>
<line x1="596.15" y1="1054.9" x2="596.15" y2="1058.9" stroke="#000" stroke-width="1.4"/>
<text x="594.5" y="1073.5" font-size="10.9" text-anchor="middle" font-weight="normal" >4</text>
<line x1="621.25" y1="924.9" x2="621.25" y2="953.9" stroke="#000" stroke-width="1.7"/>
<line x1="616.65" y1="924.9" x2="625.85" y2="924.9" stroke="#000" stroke-width="1.9"/>
<rect x="612.95" y="955" width="16.6" height="99.9" fill="#000" stroke="#000" stroke-width="2.2"/>
<line x1="621.25" y1="1054.9" x2="621.25" y2="1058.9" stroke="#000" stroke-width="1.4"/>
<text x="618.1" y="1073.5" font-size="10.9" text-anchor="middle" font-weight="normal" >24</text>
<polyline points="519.8,917.4 519.8,909 620.7,909 620.7,917.4" fill="none" stroke="#000" stroke-width="1.7"/>
<text x="568.3" y="911.2" font-size="10" text-anchor="middle" font-weight="normal" >**</text>
<text transform="translate(375.9,990.6) rotate(-90)" font-size="11.5" text-anchor="middle">ROD GADD153/NCOA3</text>
<text x="445.9" y="1095.21" font-size="11.2" text-anchor="start" font-weight="normal" >Time Post 250nM TH (Hrs)</text>
<text x="352.9" y="901.94" font-size="11" text-anchor="start" font-weight="bold" >J</text>
</svg>
</body></html>
